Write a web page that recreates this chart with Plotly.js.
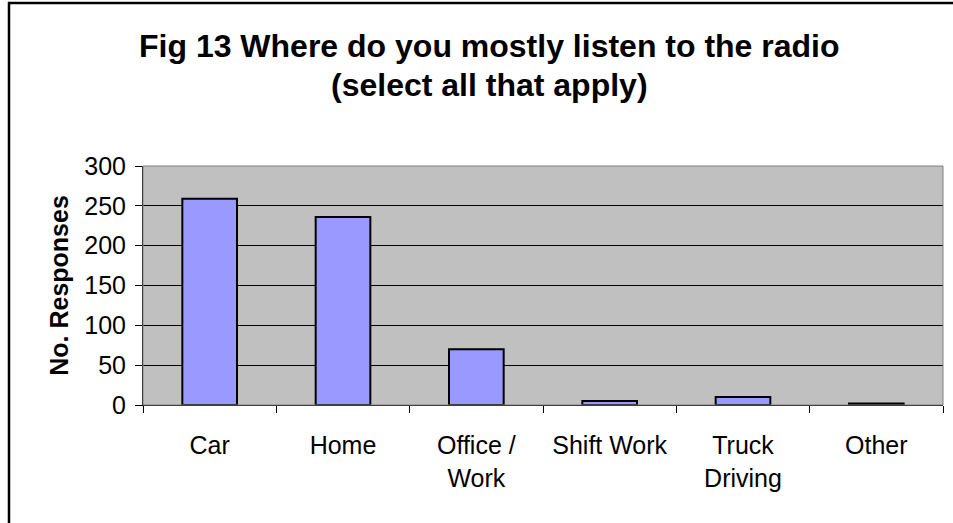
<!DOCTYPE html>
<html>
<head>
<meta charset="utf-8">
<script src="https://cdn.plot.ly/plotly-3.0.1.min.js"></script>
<style>html,body{margin:0;padding:0;background:#fff;}#chart{width:953px;height:523px;}</style>
</head>
<body>
<div id="chart"></div>
<script>
const categories = ["Car", "Home", "Office /<br>Work", "Shift Work", "Truck<br>Driving", "Other"];
const responses = [259, 236, 70, 5, 10, 2];
const yTicks = [0, 50, 100, 150, 200, 250, 300];
const titleLine1 = "Fig 13 Where do you mostly listen to the radio";
const titleLine2 = "(select all that apply)";
const yTitle = "No. Responses";

const FONT = "Liberation Sans, Arial, sans-serif";
const W = 953, H = 523;
const L = 143, R = 10, T = 166, B = 118;
const pw = W - L - R, ph = H - T - B;
function px(x) { return (x - L) / pw; }
function py(y) { return (H - B - y) / ph; }

const trace = {
  type: "bar",
  x: categories,
  y: responses,
  marker: { color: "#9999FF", line: { color: "#000000", width: 2 } },
  hoverinfo: "x+y"
};

const layout = {
  width: W, height: H,
  margin: { l: L, r: R, t: T, b: B, pad: 0 },
  paper_bgcolor: "#ffffff",
  plot_bgcolor: "#C0C0C0",
  showlegend: false,
  bargap: 0.59,
  font: { family: FONT, color: "#000000", size: 25 },
  xaxis: {
    type: "category",
    tickson: "boundaries",
    ticks: "outside",
    ticklen: 7,
    tickcolor: "#000000",
    tickwidth: 1,
    showline: true,
    linecolor: "#000000",
    linewidth: 1,
    showgrid: false,
    tickfont: { family: FONT, size: 25, color: "#000" },
    ticklabelstandoff: 18,
    tickangle: 0
  },
  yaxis: {
    range: [0, 300],
    tickvals: yTicks,
    ticktext: yTicks.map(String),
    ticks: "outside",
    ticklen: 7,
    tickcolor: "#000000",
    showline: true,
    linecolor: "#000000",
    linewidth: 1,
    showgrid: true,
    gridcolor: "#000000",
    gridwidth: 1,
    zeroline: false,
    tickfont: { family: FONT, size: 25, color: "#000" },
    ticklabelstandoff: 4,
    title: { text: "<b>" + yTitle + "</b>", font: { family: FONT, size: 25, color: "#000" }, standoff: 8 }
  },
  shapes: [
    { type: "rect", xref: "paper", yref: "paper", x0: 0, x1: 1, y0: 0, y1: 1,
      line: { color: "#808080", width: 1 }, layer: "above" },
    { type: "rect", xref: "paper", yref: "paper", x0: px(9), x1: px(W + 20), y0: py(H + 20), y1: py(3),
      line: { color: "#000000", width: 2.5 }, layer: "above" }
  ],
  annotations: [
    { xref: "paper", yref: "paper", x: px(489.5), y: py(46), xanchor: "center", yanchor: "middle",
      text: "<b>" + titleLine1 + "</b>", showarrow: false, font: { family: FONT, size: 32, color: "#000" } },
    { xref: "paper", yref: "paper", x: px(489.5), y: py(85), xanchor: "center", yanchor: "middle",
      text: "<b>" + titleLine2 + "</b>", showarrow: false, font: { family: FONT, size: 32, color: "#000" } }
  ]
};

Plotly.newPlot("chart", [trace], layout, { displayModeBar: false, staticPlot: true });
</script>
</body>
</html>
